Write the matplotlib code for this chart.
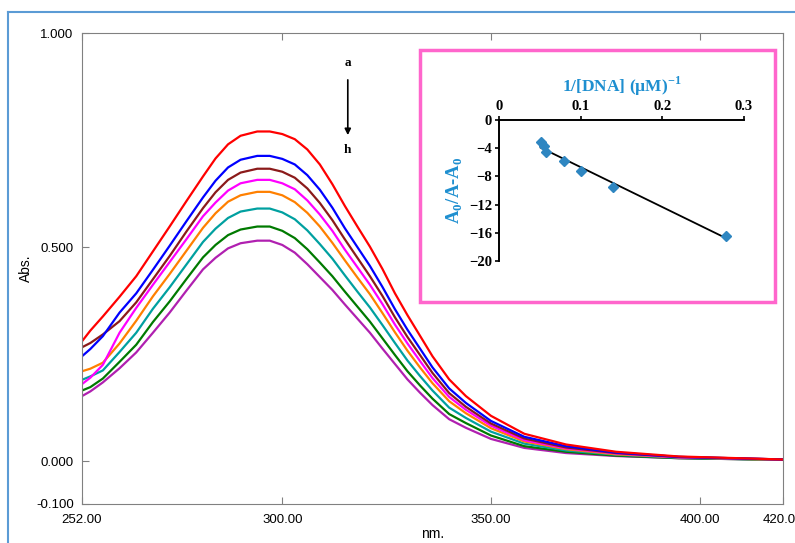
import numpy as np
import matplotlib
matplotlib.use('Agg')
import matplotlib.pyplot as plt
from matplotlib.patches import Rectangle
from matplotlib.lines import Line2D

plt.rcParams['font.family'] = ['Liberation Sans', 'DejaVu Sans']
plt.rcParams['mathtext.fontset'] = 'custom'
plt.rcParams['mathtext.rm'] = 'Liberation Serif'
plt.rcParams['mathtext.bf'] = 'Liberation Serif:bold'

#wavelengths (nm) and absorbance of spectra a..h
wl = [252, 254, 257, 261, 265, 269, 273, 277, 281, 284, 287, 290, 294, 297, 300, 303,
      306, 309, 312, 315, 318, 321, 324, 327, 330, 333, 336, 340, 344, 350, 358, 368,
      380, 395, 420]
abs_a = [.280, .305, .338, .384, .432, .490, .548, .607, .665, .707, .740, .760, .770,
         .770, .764, .752, .728, .693, .647, .596, .548, .501, .449, .392, .341, .293,
         .245, .191, .152, .106, .064, .039, .022, .011, .004]
abs_b = [.245, .262, .292, .347, .392, .447, .503, .560, .616, .655, .686, .704, .713,
         .713, .706, .693, .668, .634, .592, .544, .500, .456, .407, .355, .307, .263,
         .219, .170, .136, .094, .057, .035, .020, .010, .004]
abs_c = [.266, .276, .296, .327, .371, .425, .479, .536, .591, .628, .657, .674, .683,
         .683, .676, .662, .637, .603, .563, .518, .475, .432, .386, .336, .290, .248,
         .206, .159, .127, .088, .053, .032, .019, .010, .004]
abs_d = [.180, .195, .225, .300, .358, .412, .465, .518, .572, .604, .632, .649, .657,
         .657, .649, .635, .609, .576, .538, .494, .453, .412, .367, .319, .275, .234,
         .194, .150, .120, .083, .049, .030, .018, .009, .004]
abs_e = [.210, .216, .230, .275, .328, .385, .437, .491, .545, .579, .606, .621, .629,
         .629, .621, .605, .580, .548, .510, .469, .429, .390, .346, .301, .258, .219,
         .182, .140, .112, .077, .046, .028, .016, .009, .003]
abs_f = [.190, .198, .212, .255, .300, .356, .406, .459, .512, .543, .568, .583, .590,
         .590, .581, .565, .539, .507, .473, .434, .396, .359, .318, .276, .235, .199,
         .165, .125, .101, .069, .041, .025, .015, .008, .003]
abs_g = [.165, .173, .193, .232, .272, .325, .373, .425, .476, .505, .528, .541, .548,
         .548, .538, .521, .495, .464, .432, .396, .361, .326, .287, .248, .210, .177,
         .146, .110, .089, .060, .035, .022, .013, .007, .003]
abs_h = [.152, .163, .184, .217, .254, .300, .347, .398, .448, .475, .497, .509, .515,
         .515, .505, .487, .460, .430, .400, .366, .333, .300, .263, .227, .191, .160,
         .131, .098, .078, .052, .031, .019, .012, .007, .003]
spectra = [abs_a, abs_b, abs_c, abs_d, abs_e, abs_f, abs_g, abs_h]
colors = ['#FF0000', '#0000FF', '#8B1A1A', '#FF00FF', '#FF8000', '#00A0A0', '#007A00', '#B020B0']

xticks = [252, 300, 350, 400, 420]
yticks = [1.0, 0.5, 0.0, -0.1]

#inset: double reciprocal plot
inv_dna = [0.051, 0.0555, 0.058, 0.079, 0.100, 0.140, 0.278]
ratio = [-3.1, -3.7, -4.6, -5.8, -7.2, -9.5, -16.4]

fig = plt.figure(figsize=(7.95, 5.43), dpi=100)

#light blue page frame
fig.add_artist(Line2D([8/795, 8/795], [0, 1-12/543], color='#5B9BD5', lw=1.5,
                      transform=fig.transFigure))
fig.add_artist(Line2D([8/795, 1], [1-12/543, 1-12/543], color='#5B9BD5', lw=1.5,
                      transform=fig.transFigure))

ax = fig.add_axes([82/795, 39/543, 701/795, 471/543])
#draw h first so that a ends on top
for i in range(len(spectra)-1, -1, -1):
    ax.plot(wl, spectra[i], color=colors[i], lw=1.6)

ax.set_xlim(252, 420)
ax.set_ylim(-0.1, 1.0)
ax.set_xticks(xticks)
ax.set_xticklabels(['%.2f' % v for v in xticks])
ax.set_yticks(yticks)
ax.set_yticklabels(['%.3f' % v for v in yticks])
ax.tick_params(direction='in', length=5, color='#808080', labelsize=9.5, top=True)
ax.tick_params(axis='y', pad=6)
ax.tick_params(axis='x', pad=7)
for s in ax.spines.values():
    s.set_color('#808080')
ax.set_xlabel('nm.', fontsize=10, labelpad=1)
ax.set_ylabel('Abs.', fontsize=10, labelpad=2)

#arrow a -> h
ax.annotate('', xy=(315.7, 0.755), xytext=(315.7, 0.897),
            arrowprops=dict(arrowstyle='-|>', color='k', lw=1.2, mutation_scale=9))
ax.text(315.7, 0.930, 'a', ha='center', va='center', fontsize=9.5,
        family='Liberation Serif', weight='bold')
ax.text(315.7, 0.727, 'h', ha='center', va='center', fontsize=9.5,
        family='Liberation Serif', weight='bold')

#pink frame for inset
fig.add_artist(Rectangle((420/795, 241/543), 355/795, 252/543, transform=fig.transFigure,
                         facecolor='white', edgecolor='#FF66CC', lw=2.5, zorder=2))

ins = fig.add_axes([499/795, 282/543, 245/795, 141/543])
ins.set_zorder(3)
ins.patch.set_alpha(0)
ins.plot(inv_dna, ratio, 'D', color='#2E86C1', ms=5.5, zorder=3)
fit = np.polyfit(inv_dna, ratio, 1)
xf = np.array([min(inv_dna), max(inv_dna)])
ins.plot(xf, np.polyval(fit, xf), color='k', lw=1.3)
ins.set_xlim(0, 0.3)
ins.set_ylim(-20, 0)
ins.set_xticks([0, 0.1, 0.2, 0.3])
ins.set_xticklabels(['0', '0.1', '0.2', '0.3'])
ins.set_yticks([0, -4, -8, -12, -16, -20])
ins.xaxis.set_ticks_position('top')
ins.xaxis.set_label_position('top')
ins.spines['right'].set_visible(False)
ins.spines['bottom'].set_visible(False)
ins.spines['top'].set_linewidth(1.4)
ins.spines['left'].set_linewidth(1.4)
ins.tick_params(direction='out', length=3, width=1.2, pad=2)
for lab in ins.get_xticklabels() + ins.get_yticklabels():
    lab.set_family('Liberation Serif')
    lab.set_weight('bold')
    lab.set_fontsize(10.5)
ins.set_xlabel(r'1/[DNA] (µM)$^{\mathbf{-1}}$', family='Liberation Serif', weight='bold',
               fontsize=12.5, color='#1E8FD0', labelpad=6)
ins.set_ylabel(r'A$_\mathbf{0}$/A-A$_\mathbf{0}$', family='Liberation Serif', weight='bold',
               fontsize=13.5, color='#1E8FD0', labelpad=3)

fig.savefig('out.png', dpi=100)
plt.close()
